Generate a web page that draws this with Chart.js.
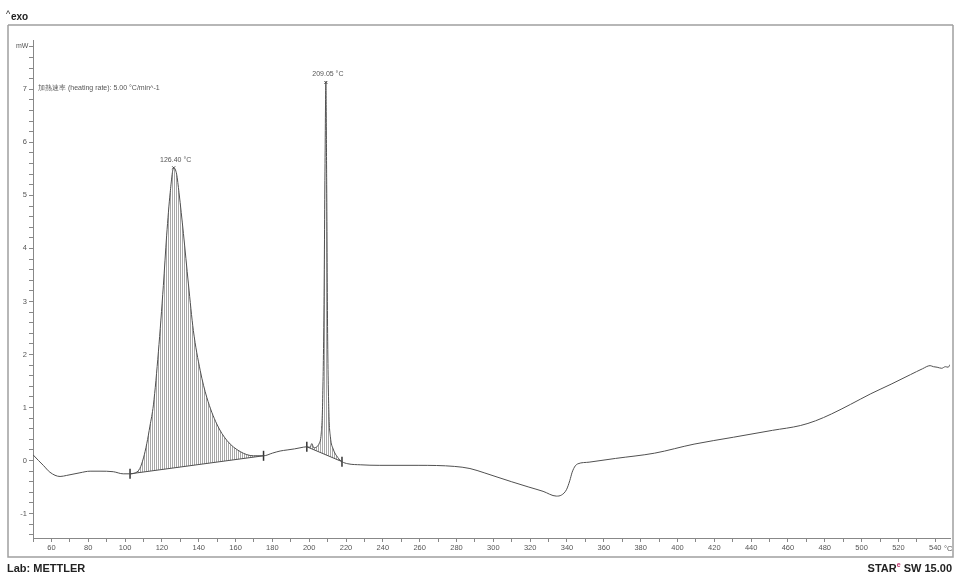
<!DOCTYPE html>
<html lang="en">
<head>
<meta charset="UTF-8">
<title>DSC curve</title>
<script src="https://cdn.jsdelivr.net/npm/chart.js@4.4.1/dist/chart.umd.min.js"></script>
<style>
    body { margin: 0; background: #fff; }
    canvas { display: block; }
</style>
</head>
<body>
<canvas id="dsc" width="958" height="575"></canvas>
<script>
// temperature (°C) and heat flow (mW)
const tempC = [50, 53, 55.6, 59.2, 64.7, 68.3, 75.5, 81, 86.4, 93.6, 99, 102.7, 105, 108, 110, 111.8,
    113.5, 115.4, 118.1, 120.8, 122.6, 124.5, 126.4, 128, 129.3, 131.7, 134.4, 137.1, 140.8, 144.4,
    149.8, 155.3, 162.5, 169.7, 175.2, 180, 184.2, 188, 192, 195, 198.7, 200.5, 201.4, 202.5, 204.1,
    205.5, 206.5, 207.3, 208, 208.6, 209.05, 209.5, 210, 210.7, 211.5, 213, 215.5, 217.8, 221, 228,
    238, 259.6, 278.8, 287.3, 295, 302, 310, 319.3, 327, 334.2, 337, 339.7, 341.5, 342.8, 344.5, 346,
    352, 366.3, 387.6, 409, 430.4, 451.6, 466.7, 475, 483.7, 494, 505, 516, 526.5, 533, 537.2, 539,
    541, 543.5, 545.5, 547, 548];
const heatFlow = [0.11, 0.0, -0.09, -0.22, -0.3, -0.28, -0.23, -0.2, -0.2, -0.21, -0.25, -0.25, -0.24, -0.15, 0.05, 0.32,
    0.65, 1.05, 2.05, 3.3, 4.25, 5.05, 5.52, 5.4, 5.05, 4.28, 3.33, 2.45, 1.7, 1.19,
    0.69, 0.38, 0.17, 0.09, 0.09, 0.14, 0.18, 0.2, 0.22, 0.24, 0.26, 0.25, 0.32, 0.24, 0.26,
    0.33, 0.5, 1.1, 2.8, 5.6, 7.13, 5.2, 2.4, 0.9, 0.45, 0.22, 0.06, -0.02, -0.06, -0.08,
    -0.09, -0.09, -0.11, -0.15, -0.23, -0.31, -0.4, -0.5, -0.58, -0.67, -0.65, -0.55, -0.38, -0.22, -0.1, -0.06,
    -0.03, 0.04, 0.14, 0.31, 0.44, 0.57, 0.66, 0.75, 0.88, 1.06, 1.26, 1.44, 1.62, 1.73, 1.79, 1.77,
    1.76, 1.74, 1.77, 1.76, 1.81];

// integration limits [startT, startY, endT, endY]
const peak1Base = [102.7, -0.25, 175.2, 0.09];
const peak2Base = [198.7, 0.26, 217.8, -0.02];
const peakTemps = [126.40, 209.05];
const peakFlows = [5.52, 7.13];

const xLabels = [60, 80, 100, 120, 140, 160, 180, 200, 220, 240, 260, 280, 300, 320, 340, 360, 380, 400, 420, 440, 460, 480, 500, 520, 540];
const yLabels = [-1, 0, 1, 2, 3, 4, 5, 6, 7];

const FONT = '"Liberation Sans", Arial, sans-serif';

const curve = tempC.map((t, i) => ({ x: t, y: heatFlow[i] }));
const between = (a, b) => curve.filter(p => p.x >= a && p.x <= b);

// minor tick positions
const xTicks = [];
for (let v = 50; v <= 540; v += 10) xTicks.push(v);
const yTicks = [];
for (let i = -7; i <= 39; i++) yTicks.push(i * 2 / 10);

// vertical hatch pattern for the integrated areas
function hatch() {
    const c = document.createElement('canvas');
    c.width = 2; c.height = 4;
    const g = c.getContext('2d');
    g.fillStyle = '#a8a8a8';
    g.fillRect(0, 0, 1, 4);
    return g.createPattern(c, 'repeat');
}
const pat = hatch();

const decor = {
    id: 'decor',
    afterDraw(chart) {
        const ctx = chart.ctx;
        const xs = chart.scales.x, ys = chart.scales.y;
        ctx.save();
        // frame
        ctx.strokeStyle = '#a0a0a0';
        ctx.lineWidth = 1.5;
        ctx.beginPath();
        ctx.moveTo(8, 25); ctx.lineTo(953, 25);
        ctx.moveTo(8, 25); ctx.lineTo(8, 557); ctx.lineTo(953, 557); ctx.lineTo(953, 25);
        ctx.stroke();

        ctx.fillStyle = '#222';
        ctx.textBaseline = 'alphabetic';
        ctx.textAlign = 'left';
        ctx.font = '9px ' + FONT;
        ctx.fillText('^', 6, 17);
        ctx.font = 'bold 10px ' + FONT;
        ctx.fillText('exo', 11, 20);

        ctx.fillStyle = '#555';
        ctx.font = '7px ' + FONT;
        ctx.fillText('mW', 16, 48);
        ctx.fillText('加熱速率 (heating rate): 5.00 °C/min^-1', 38, 90);
        ctx.font = '7.5px ' + FONT;
        ctx.fillText('°C', 944, 551);

        // peak labels
        ctx.textAlign = 'center';
        ctx.font = '7px ' + FONT;
        peakTemps.forEach((t, i) => {
            ctx.fillText(t.toFixed(2) + ' °C', xs.getPixelForValue(t) + 2, ys.getPixelForValue(peakFlows[i]) - 6);
        });

        // footer
        ctx.textAlign = 'left';
        ctx.fillStyle = '#222';
        ctx.font = 'bold 11px ' + FONT;
        ctx.fillText('Lab: METTLER', 7, 572);
        ctx.textAlign = 'right';
        ctx.fillText('SW 15.00', 952, 572);
        const w = ctx.measureText('SW 15.00 ').width;
        ctx.fillStyle = '#c0306a';
        ctx.font = 'bold 7px ' + FONT;
        ctx.fillText('e', 952 - w, 567);
        const we = ctx.measureText('e').width;
        ctx.fillStyle = '#222';
        ctx.font = 'bold 11px ' + FONT;
        ctx.fillText('STAR', 952 - w - we, 572);
        ctx.restore();
    }
};

new Chart(document.getElementById('dsc'), {
    type: 'line',
    data: {
        datasets: [
            {
                data: curve,
                borderColor: '#505050',
                borderWidth: 1,
                pointRadius: 0,
                cubicInterpolationMode: 'monotone',
                fill: false
            },
            {
                data: [{ x: peak1Base[0], y: peak1Base[1] }, { x: peak1Base[2], y: peak1Base[3] }],
                borderColor: '#505050',
                borderWidth: 1,
                pointStyle: 'line',
                rotation: 90,
                pointRadius: 5,
                pointBorderColor: '#333',
                pointBorderWidth: 1.5,
                fill: false
            },
            {
                data: between(peak1Base[0], peak1Base[2]),
                borderWidth: 0,
                pointRadius: 0,
                cubicInterpolationMode: 'monotone',
                backgroundColor: pat,
                fill: 1
            },
            {
                data: [{ x: peak2Base[0], y: peak2Base[1] }, { x: peak2Base[2], y: peak2Base[3] }],
                borderColor: '#505050',
                borderWidth: 1,
                pointStyle: 'line',
                rotation: 90,
                pointRadius: 5,
                pointBorderColor: '#333',
                pointBorderWidth: 1.5,
                fill: false
            },
            {
                data: between(peak2Base[0], peak2Base[2]),
                borderWidth: 0,
                pointRadius: 0,
                cubicInterpolationMode: 'monotone',
                backgroundColor: pat,
                fill: 3
            },
            {
                data: peakTemps.map((t, i) => ({ x: t, y: peakFlows[i] })),
                showLine: false,
                pointStyle: 'crossRot',
                pointRadius: 2,
                pointBorderColor: '#333',
                pointBorderWidth: 1
            }
        ]
    },
    options: {
        responsive: false,
        animation: false,
        layout: { padding: { left: 8, top: 40, right: 8, bottom: 18 } },
        plugins: { legend: { display: false }, tooltip: { enabled: false } },
        scales: {
            x: {
                type: 'linear',
                min: 50,
                max: 548,
                afterBuildTicks: s => { s.ticks = xTicks.map(v => ({ value: v })); },
                afterFit: s => { s.height = 19; },
                ticks: {
                    autoSkip: false,
                    maxRotation: 0,
                    padding: 1,
                    color: '#555',
                    font: { family: FONT, size: 7.5 },
                    callback: v => xLabels.includes(v) ? String(v) : ''
                },
                grid: { drawOnChartArea: false, drawTicks: true, tickLength: 4, color: '#888' },
                border: { color: '#888' }
            },
            y: {
                type: 'linear',
                min: -1.46,
                max: 7.93,
                afterBuildTicks: s => { s.ticks = yTicks.map(v => ({ value: v })); },
                afterFit: s => { s.width = 25; },
                ticks: {
                    autoSkip: false,
                    padding: 2,
                    color: '#555',
                    font: { family: FONT, size: 7.5 },
                    callback: v => {
                        const r = Math.round(v);
                        return (Math.abs(v - r) < 1e-6 && yLabels.includes(r)) ? String(r) : '';
                    }
                },
                grid: { drawOnChartArea: false, drawTicks: true, tickLength: 4, color: '#888' },
                border: { color: '#888' }
            }
        }
    },
    plugins: [decor]
});
</script>
</body>
</html>
